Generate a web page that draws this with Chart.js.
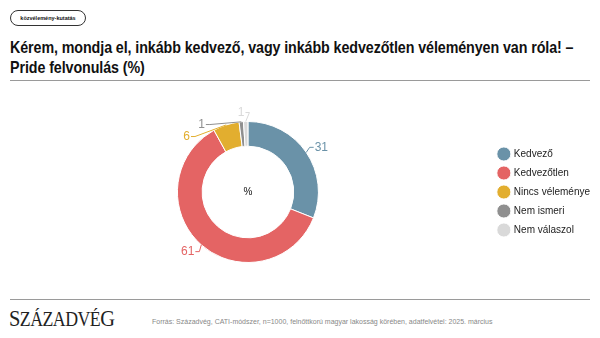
<!DOCTYPE html>
<html lang="hu">
<head>
<meta charset="utf-8">
<script src="https://cdn.jsdelivr.net/npm/chart.js@4.4.0/dist/chart.umd.min.js"></script>
<style>
  html, body { margin: 0; padding: 0; background: #fff; }
  body { width: 600px; height: 338px; position: relative; overflow: hidden; font-family: "Liberation Sans", Arial, sans-serif; }
  .tag { position: absolute; left: 10px; top: 10px; width: 74px; height: 14px; border: 1px solid #333; border-radius: 8px;
         font-size: 5.5px; font-weight: bold; line-height: 14px; text-align: center; color: #111; }
  h1 { position: absolute; left: 10px; top: 37px; margin: 0; white-space: nowrap;
       font-size: 16.5px; line-height: 20px; font-weight: bold; color: #111; letter-spacing: -0.1px;
       transform: scaleX(0.865); transform-origin: left top; }
  .rule { position: absolute; left: 10px; width: 580px; height: 0; border-top: 1.5px solid #9a9a9a; }
  #wrap { position: absolute; left: 0; top: 88px; width: 600px; height: 210px; }
  .logo { position: absolute; left: 9px; top: 307px; font-family: "Liberation Serif", "DejaVu Serif", serif; color: #222;
          font-size: 20px; letter-spacing: -0.6px; line-height: 24px; transform: scaleX(0.89); transform-origin: left center; }
  .logo .big { font-size: 23px; }
  .src { position: absolute; left: 152px; top: 318px; font-size: 7px; color: #888; }
</style>
</head>
<body>
<div class="tag">közvélemény-kutatás</div>
<h1>Kérem, mondja el, inkább kedvező, vagy inkább kedvezőtlen véleményen van róla! –<br>Pride felvonulás (%)</h1>
<div class="rule" style="top:80px"></div>
<div id="wrap"><canvas id="donut"></canvas></div>
<div class="rule" style="top:299px"></div>
<div class="logo"><span class="big">S</span>ZÁZADVÉ<span class="big">G</span></div>
<div class="src">Forrás: Századvég, CATI-módszer, n=1000, felnőttkorú magyar lakosság körében, adatfelvétel: 2025. március</div>

<script>
const categories = ['Kedvező', 'Kedvezőtlen', 'Nincs véleménye', 'Nem ismeri', 'Nem válaszol'];
const values = [31, 61, 6, 1, 1];
const colors = ['#6a92a8', '#e46464', '#e2ae2f', '#8f8f8f', '#d9d9d9'];

// value labels outside the ring, connected to their slice with a thin line;
// labels on each side are pushed apart vertically so they never overlap
const outsideLabels = {
  id: 'outsideLabels',
  afterDatasetsDraw(chart) {
    const { ctx } = chart;
    const arcs = chart.getDatasetMeta(0).data;
    const items = arcs.map((arc, i) => {
      const { x, y, outerRadius, startAngle, endAngle } = arc.getProps(['x', 'y', 'outerRadius', 'startAngle', 'endAngle'], true);
      const mid = (startAngle + endAngle) / 2;
      const r = outerRadius + 9;
      return {
        i, cx: x, cy: y, R: outerRadius, r, mid,
        ax: x + Math.cos(mid) * outerRadius, ay: y + Math.sin(mid) * outerRadius,
        right: Math.cos(mid) >= 0,
        ly: y + Math.sin(mid) * r
      };
    });
    [true, false].forEach(side => {
      const group = items.filter(it => it.right === side).sort((a, b) => a.ly - b.ly);
      for (let k = 1; k < group.length; k++) {
        if (group[k].ly < group[k - 1].ly + 12) group[k].ly = group[k - 1].ly + 12;
      }
    });
    ctx.save();
    ctx.font = '12px "Liberation Sans", Arial, sans-serif';
    ctx.textBaseline = 'middle';
    items.forEach(it => {
      const dy = it.ly - it.cy;
      const dx = Math.sqrt(Math.max(it.r * it.r - dy * dy, 0));
      const lx = it.right ? it.cx + dx : it.cx - dx;
      const col = colors[it.i];
      ctx.strokeStyle = col;
      ctx.lineWidth = 1;
      ctx.beginPath();
      ctx.moveTo(lx, it.ly);
      ctx.lineTo(lx + (it.right ? -4 : 4), it.ly);
      ctx.lineTo(it.ax, it.ay);
      ctx.stroke();
      ctx.fillStyle = col;
      ctx.textAlign = it.right ? 'left' : 'right';
      ctx.fillText(String(values[it.i]), lx + (it.right ? 1 : -1), it.ly);
    });
    // centre sign
    const c = items[0];
    ctx.fillStyle = '#111';
    ctx.font = '10px "Liberation Sans", Arial, sans-serif';
    ctx.textAlign = 'center';
    ctx.fillText('%', c.cx, c.cy);
    ctx.restore();
  }
};

new Chart(document.getElementById('donut'), {
  type: 'doughnut',
  data: {
    labels: categories,
    datasets: [{
      data: values,
      backgroundColor: colors,
      borderColor: '#fff',
      borderWidth: 1,
      hoverOffset: 0
    }]
  },
  options: {
    responsive: true,
    maintainAspectRatio: false,
    animation: false,
    cutout: '65%',
    layout: { padding: { top: 33, bottom: 35, left: 6 } },
    plugins: {
      tooltip: { enabled: false },
      legend: {
        position: 'right',
        align: 'center',
        labels: {
          usePointStyle: true,
          pointStyle: 'circle',
          boxWidth: 10,
          boxHeight: 10,
          padding: 9,
          color: '#222',
          font: { family: '"Liberation Sans", Arial, sans-serif', size: 10 }
        }
      }
    }
  },
  plugins: [outsideLabels]
});
</script>
</body>
</html>
